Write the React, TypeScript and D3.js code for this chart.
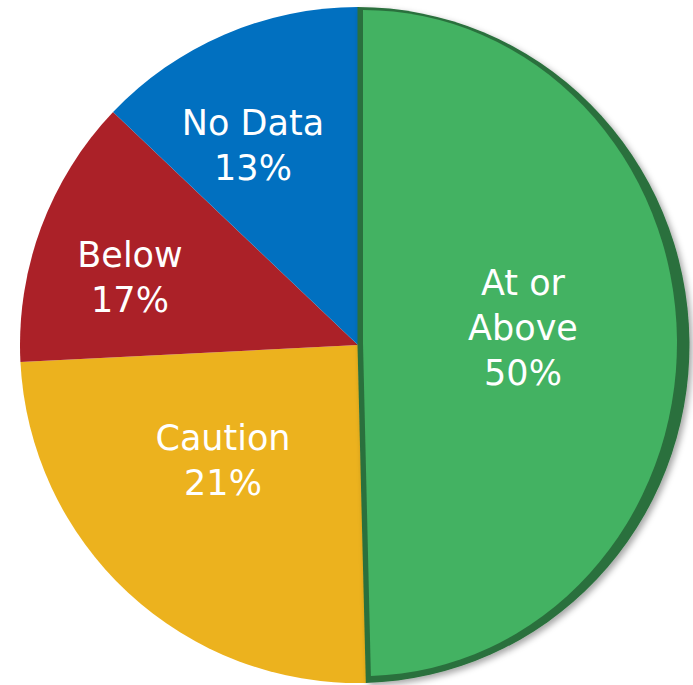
import React, { useEffect, useRef } from 'react';
import * as d3 from 'd3';

// slice sweep as drawn (share of the circle), clockwise from 12 o'clock
const categories = ['At or Above', 'Caution', 'Below', 'No Data'];
const sliceShares = [49.6, 24.6, 12.9, 12.9];
const percentLabels = ['50%', '21%', '17%', '13%'];
const labelLines = [['At or', 'Above'], ['Caution'], ['Below'], ['No Data']];
const colors = ['#43b262', '#ecb21e', '#ab2128', '#0170c0'];

export default function App() {
    const ref = useRef<SVGSVGElement>(null);

    useEffect(() => {
        const svg = d3.select(ref.current);
        svg.selectAll('*').remove();

        const width = 693;
        const height = 685;
        const cx = 358;
        const cy = 345;
        const r = 338;

        const defs = svg.append('defs');
        const shadow = defs.append('filter').attr('id', 'shadow').attr('x', '-10%').attr('y', '-10%').attr('width', '130%').attr('height', '130%');
        shadow
            .append('feDropShadow')
            .attr('dx', 3)
            .attr('dy', 3)
            .attr('stdDeviation', 3)
            .attr('flood-color', '#000')
            .attr('flood-opacity', 0.35);

        const data = categories.map((c, i) => ({ name: c, value: sliceShares[i], i }));
        const pie = d3.pie<any>().sort(null).value((d) => d.value);
        const arcs = pie(data);
        const arc = d3.arc<any>().innerRadius(0).outerRadius(r);

        // flat slices
        const g = svg.append('g').attr('transform', `translate(${cx},${cy})`);
        g.selectAll('path')
            .data(arcs.filter((d) => d.data.i !== 0))
            .enter()
            .append('path')
            .attr('d', arc)
            .attr('fill', (d) => colors[d.data.i]);

        // raised green slice: dark side + lighter face
        const green = arcs[0];
        svg.append('path')
            .attr('d', arc(green))
            .attr('transform', `translate(${cx - 0.5},${cy}) scale(${332 / r},1)`)
            .attr('fill', '#2a6f3c')
            .attr('filter', 'url(#shadow)');
        svg.append('path')
            .attr('d', arc(green))
            .attr('transform', `translate(${cx + 5},${cy - 2}) scale(${314 / r},${333 / r})`)
            .attr('fill', colors[0]);

        // labels
        const labelPos = [
            [523, 295],
            [223, 450],
            [130, 267],
            [253, 135],
        ];
        const lineH = 45;
        const tg = svg
            .append('g')
            .attr('fill', '#fff')
            .attr('font-family', 'DejaVu Sans, sans-serif')
            .attr('font-size', 35)
            .attr('text-anchor', 'middle');
        labelLines.forEach((lines, i) => {
            const [x, y] = labelPos[i];
            const t = tg.append('text').attr('x', x).attr('y', y);
            [...lines, percentLabels[i]].forEach((ln, k) => {
                t.append('tspan').attr('x', x).attr('y', y + k * lineH).text(ln);
            });
        });

        svg.attr('width', width).attr('height', height);
    }, []);

    return <svg ref={ref} style={{ position: 'absolute', left: 0, top: 0, background: '#fff' }} />;
}
